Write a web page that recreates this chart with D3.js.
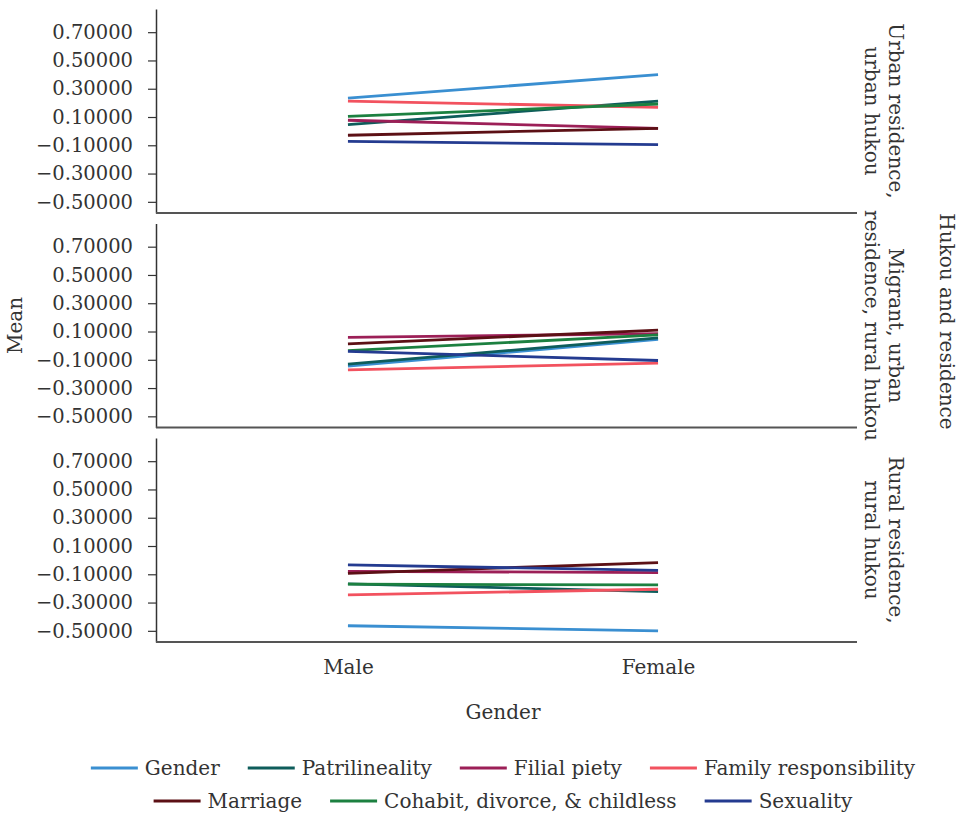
<!DOCTYPE html>
<html>
<head>
<meta charset="utf-8">
<script src="https://cdn.jsdelivr.net/npm/d3@7"></script>
<style>
  html, body { margin: 0; padding: 0; background: #fff; }
  svg text { font-family: "DejaVu Serif", serif; fill: #333; }
</style>
</head>
<body>
<svg id="chart" width="966" height="815"></svg>
<script>
// ---- data ----
const categories = ["Male", "Female"];
const panelLabels = [
  ["Urban residence,", "urban hukou"],
  ["Migrant, urban", "residence, rural hukou"],
  ["Rural residence,", "rural hukou"]
];
const seriesNames = ["Gender", "Patrilineality", "Filial piety", "Family responsibility",
                     "Marriage", "Cohabit, divorce, & childless", "Sexuality"];
const yTicks = [0.7, 0.5, 0.3, 0.1, -0.1, -0.3, -0.5];

// values per series: [panel][Male, Female]
const genderVals          = [[0.233, 0.400], [-0.145, 0.045], [-0.464, -0.500]];
const patrilinealityVals  = [[0.046, 0.213], [-0.131, 0.055], [-0.168, -0.222]];
const filialPietyVals     = [[0.077, 0.020], [0.058, 0.085], [-0.079, -0.088]];
const familyRespVals      = [[0.213, 0.169], [-0.172, -0.124], [-0.246, -0.206]];
const marriageVals        = [[-0.029, 0.020], [0.013, 0.110], [-0.093, -0.017]];
const cohabitVals         = [[0.105, 0.192], [-0.035, 0.076], [-0.170, -0.175]];
const sexualityVals       = [[-0.072, -0.096], [-0.040, -0.105], [-0.034, -0.072]];

const palette = ["#3a8fd1", "#0e5d5b", "#9c1f57", "#f2525f", "#5c1015", "#1c8040", "#243b90"];

const seriesValues = [genderVals, patrilinealityVals, filialPietyVals, familyRespVals,
                      marriageVals, cohabitVals, sexualityVals];

// ---- layout ----
const svg = d3.select("#chart");
const left = 156, axisRight = 857;
const top0 = 9, panelStep = 214.5, panelH = 204;
const fmt = d3.format(".5f");

const x = d3.scalePoint().domain(categories).range([left, 850]).padding(0.619);

panelLabels.forEach((lab, p) => {
  const top = top0 + p * panelStep;
  const bottom = top + panelH;
  const y = d3.scaleLinear().domain([-0.579, 0.864]).range([bottom, top]);
  const g = svg.append("g");

  // y axis
  const ay = g.append("g").attr("transform", `translate(${left},0)`)
    .call(d3.axisLeft(y).tickValues(yTicks).tickFormat(fmt).tickSize(8).tickPadding(15).tickSizeOuter(0));
  ay.select(".domain").attr("stroke", "#333").attr("stroke-width", 1.5);
  ay.selectAll(".tick line").attr("stroke", "#333").attr("stroke-width", 1.2);
  ay.selectAll(".tick text").style("font-size", "19.5px").attr("fill", "#333");

  // x baseline
  g.append("line").attr("x1", left).attr("x2", axisRight)
    .attr("y1", bottom).attr("y2", bottom)
    .attr("stroke", "#555").attr("stroke-width", 2);

  // series lines
  const line = d3.line().x((d, i) => x(categories[i])).y(d => y(d));
  seriesValues.forEach((vals, s) => {
    g.append("path").datum(vals[p]).attr("d", line)
      .attr("fill", "none").attr("stroke", palette[s]).attr("stroke-width", 2.8);
  });

  // strip label
  const cy = (top + bottom) / 2;
  [896, 872].forEach((lx, li) => {
    g.append("text").attr("transform", `translate(${lx},${cy}) rotate(90)`)
      .attr("text-anchor", "middle").attr("dominant-baseline", "central")
      .style("font-size", "20px").text(lab[li]);
  });

  if (p === 2) {
    const ax = g.append("g").attr("transform", `translate(0,${bottom})`)
      .call(d3.axisBottom(x).tickSize(0).tickPadding(18));
    ax.select(".domain").remove();
    ax.selectAll(".tick text").style("font-size", "20px").attr("fill", "#333");
  }
});

// axis titles
const midY = (top0 + top0 + 2 * panelStep + panelH) / 2;
svg.append("text").attr("transform", `translate(15,${midY}) rotate(-90)`)
  .attr("text-anchor", "middle").attr("dominant-baseline", "central")
  .style("font-size", "20px").text("Mean");
svg.append("text").attr("x", x("Male") + (x("Female") - x("Male")) / 2).attr("y", 712)
  .attr("text-anchor", "middle").attr("dominant-baseline", "central")
  .style("font-size", "20px").text("Gender");
svg.append("text").attr("transform", `translate(947,${midY - 4}) rotate(90)`)
  .attr("text-anchor", "middle").attr("dominant-baseline", "central")
  .style("font-size", "20px").text("Hukou and residence");

// legend
const legendRows = [[0, 1, 2, 3], [4, 5, 6]];
const rowY = [768, 801];
const sw = 47, gap = 7, itemGap = 28, centerX = 503;
legendRows.forEach((row, r) => {
  const lg = svg.append("g");
  let cx = 0;
  row.forEach(s => {
    const it = lg.append("g").attr("transform", `translate(${cx},0)`);
    it.append("line").attr("x1", 0).attr("x2", sw).attr("y1", 0).attr("y2", 0)
      .attr("stroke", palette[s]).attr("stroke-width", 2.8);
    const t = it.append("text").attr("x", sw + gap).attr("y", 0)
      .attr("dominant-baseline", "central").style("font-size", "20px").text(seriesNames[s]);
    cx += sw + gap + t.node().getComputedTextLength() + itemGap;
  });
  const total = cx - itemGap;
  lg.attr("transform", `translate(${centerX - total / 2},${rowY[r]})`);
});
</script>
</body>
</html>
